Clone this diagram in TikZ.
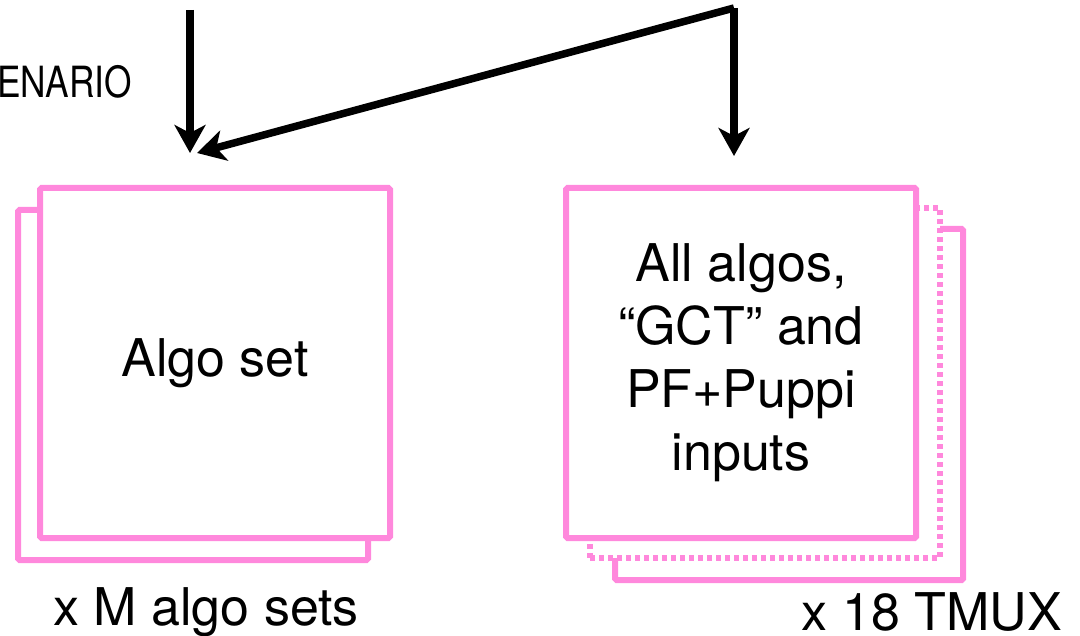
\documentclass[tikz,border=0pt]{standalone}
\usepackage{fontspec}
\setmainfont{TeX Gyre Heros}
\usetikzlibrary{arrows.meta}
\definecolor{setpink}{RGB}{255,136,220}
\begin{document}
\begin{tikzpicture}[x=1pt,y=-1pt,
  card/.style={draw=setpink, line width=6pt, fill=white, rounded corners=1.5pt,
    minimum width=350pt, minimum height=350pt, inner sep=0pt, anchor=north west,
    align=center, font=\fontsize{52}{63}\selectfont},
  dottedcard/.style={card, dash pattern=on 5pt off 4pt, rounded corners=0pt},
  flow/.style={line width=7.5pt, line join=miter,
    -{Stealth[length=28pt,width=31pt,inset=8pt]}},
  caption/.style={anchor=base, font=\fontsize{52}{63}\selectfont, inner sep=0pt}]
  \useasboundingbox (0,0) rectangle (1080,636);

  % scenario heading, running off the left edge
  \node[anchor=base west, inner sep=0pt, font=\fontsize{43}{43}\selectfont]
    (scen) at (-3,98) {\scalebox{0.82}[1]{ENARIO}};

  % left stack: M algo sets
  \node[card] (algoback) at (15,207) {};
  \node[card] (algo) at (37,185) {Algo set};
  \node[caption] (mlabel) at (206,625) {x M algo sets};

  % right stack: 18 time-multiplexed boards
  \node[card, minimum width=348pt, minimum height=351pt] (tmuxback) at (612,226) {};
  \node[dottedcard] (tmuxmid) at (587,205) {};
  \node[card] (tmux) at (563,185)
    {All algos,\\``GCT'' and\\PF+Puppi\\inputs};
  \node[caption] (tlabel) at (932,630) {x 18 TMUX};

  % incoming flows
  \coordinate (srcL) at (190,10);
  \coordinate (srcR) at (734,8);
  \coordinate (tipL) at (190,153);
  \coordinate (tipD) at (197,153);
  \coordinate (tipR) at (734,156);
  \draw[flow] (srcL) -- (tipL);
  \draw[flow] (srcR) -- (tipD);
  \draw[flow] (srcR) -- (tipR);
\end{tikzpicture}
\end{document}
